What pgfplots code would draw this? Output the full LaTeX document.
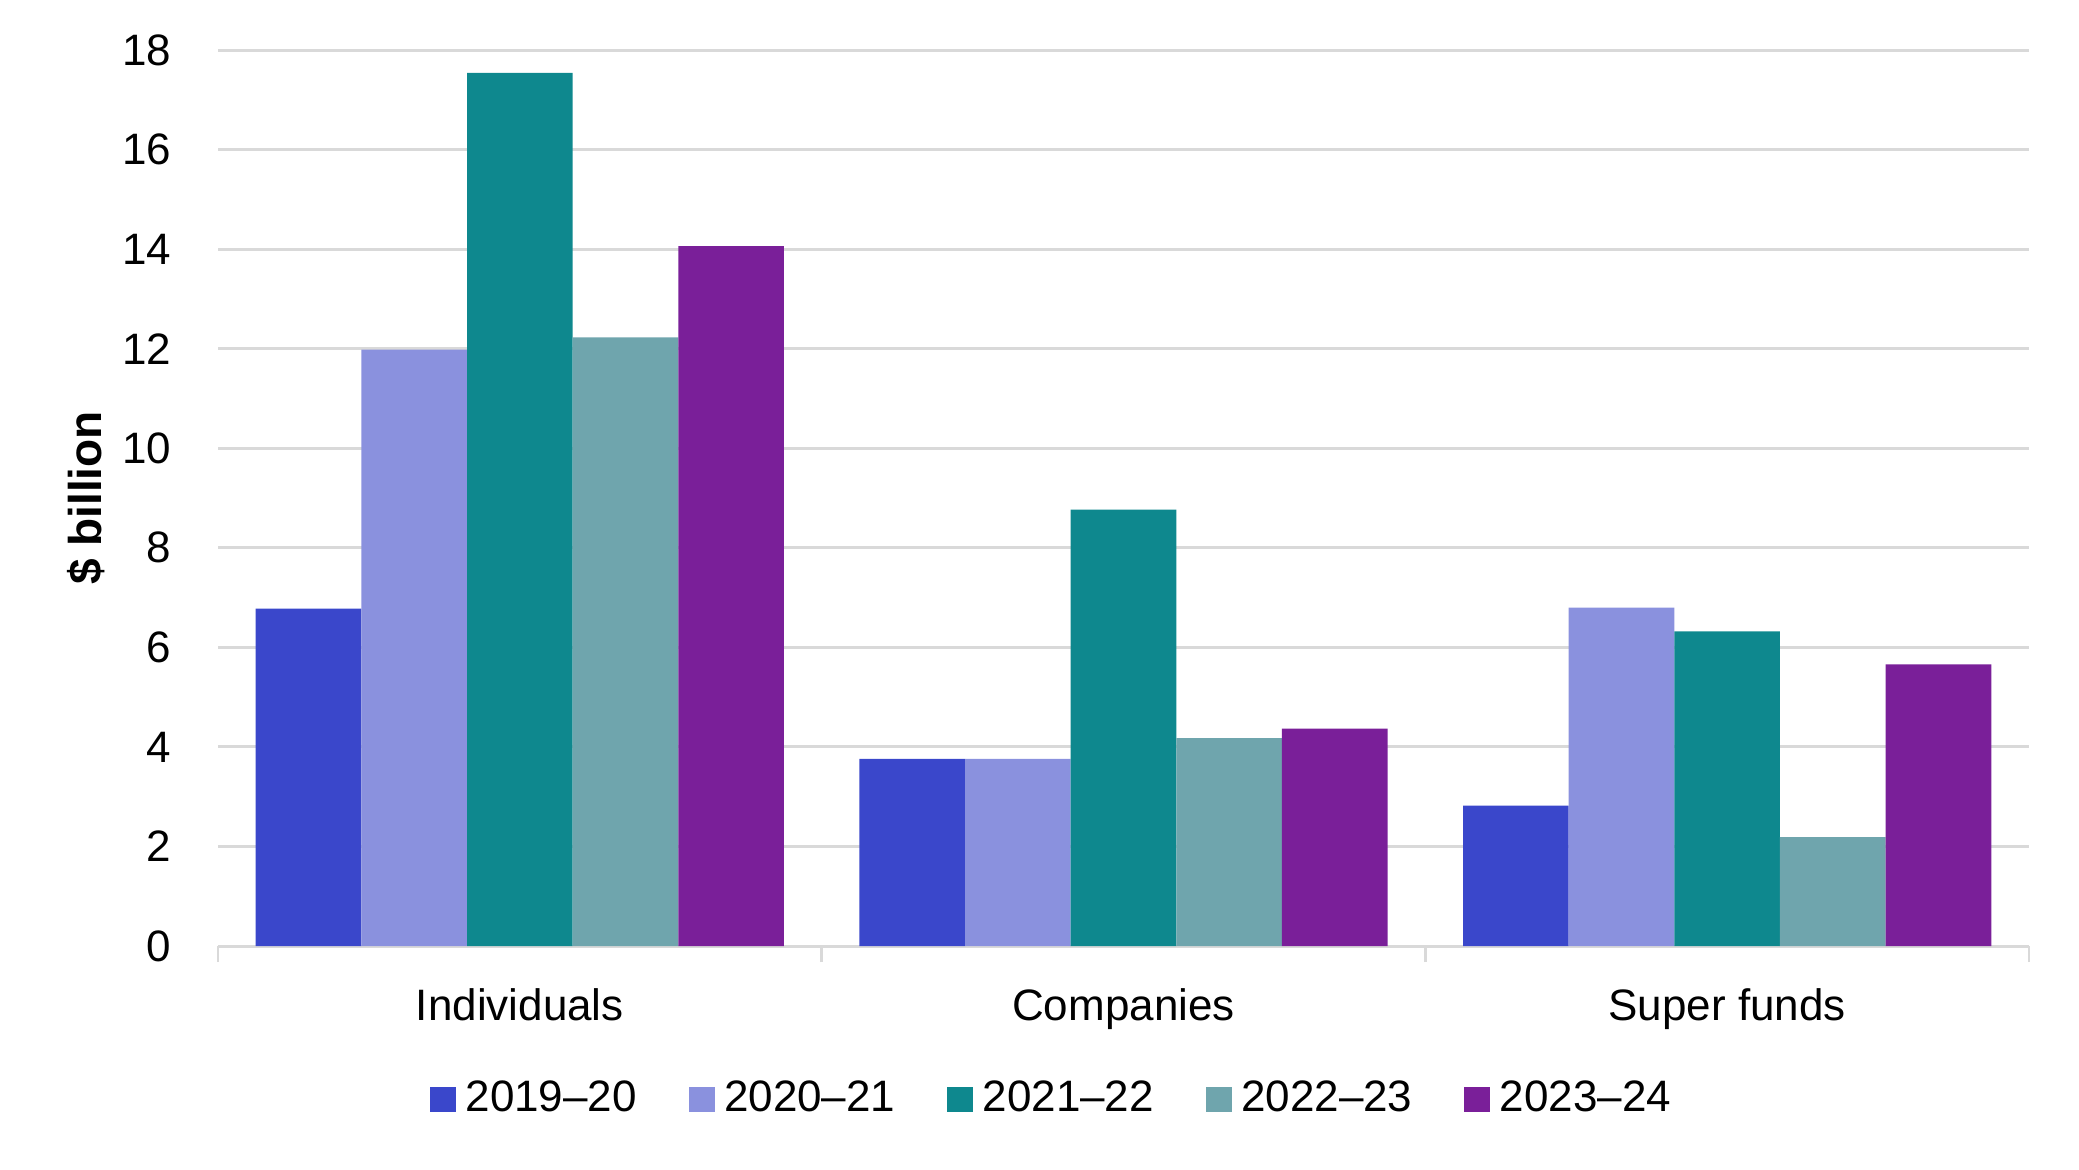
\documentclass[border=0pt]{standalone}
\usepackage{pgfplots}
\pgfplotsset{compat=1.18}
\usepackage{fontspec}
\setmainfont{Liberation Sans}

\definecolor{cA}{HTML}{3A47CB}
\definecolor{cB}{HTML}{8A91DE}
\definecolor{cC}{HTML}{0E888E}
\definecolor{cD}{HTML}{6FA5AD}
\definecolor{cE}{HTML}{7A1F99}
\definecolor{gridgray}{HTML}{D9D9D9}

\begin{document}
\begin{tikzpicture}
\fontsize{11}{13}\selectfont
\begin{axis}[
  scale only axis,
  width=452.7pt, height=224pt,
  ybar=0pt,
  bar width=0.175,
  xmin=-0.5, xmax=2.5,
  ymin=0, ymax=18,
  ytick={0,2,...,18},
  xtick={0,1,2},
  xticklabels={Individuals,Companies,Super funds},
  minor xtick={-0.5,0.5,1.5,2.5},
  major tick length=0pt,
  minor tick length=4pt,
  tick align=outside,
  minor tick style={gridgray, line width=0.6pt},
  axis lines*=left,
  x axis line style={draw=gridgray, line width=0.75pt, -},
  y axis line style={draw=none},
  ymajorgrids,
  major grid style={gridgray, line width=0.75pt},
  /pgf/number format/assume math mode=true,
  tick label style={font=\fontsize{11}{13}\selectfont, black},
  y tick label style={anchor=east, inner sep=0pt, xshift=-11.5pt},
  x tick label style={anchor=base, inner sep=0pt, yshift=-18.5pt},
  ylabel={\textbf{\$ billion}},
  every axis y label/.style={at={(axis description cs:-0.0729,0.5)}, anchor=center, rotate=90, font=\fontsize{11.5}{13}\selectfont},
  legend columns=5,
  legend style={at={(axis description cs:0.462,-0.171)}, anchor=center, draw=none, fill=none,
    font=\fontsize{11}{13}\selectfont,
    /tikz/every even column/.append style={column sep=11pt},
    /tikz/every odd column/.append style={column sep=0.3pt}},
  legend image code/.code={\fill[#1] (0pt,-3.2pt) rectangle (6.5pt,3.2pt);},
  every axis plot/.append style={draw=none},
]
\addplot[fill=cA] coordinates {(0,6.78) (1,3.76) (2,2.82)};
\addplot[fill=cB] coordinates {(0,11.98) (1,3.76) (2,6.80)};
\addplot[fill=cC] coordinates {(0,17.54) (1,8.77) (2,6.32)};
\addplot[fill=cD] coordinates {(0,12.23) (1,4.18) (2,2.19)};
\addplot[fill=cE] coordinates {(0,14.06) (1,4.37) (2,5.66)};
\legend{2019--20,2020--21,2021--22,2022--23,2023--24}
\end{axis}
\path[use as bounding box] (-54.5pt,-55.75pt) rectangle (465.2pt,236.5pt);
\end{tikzpicture}
\end{document}
